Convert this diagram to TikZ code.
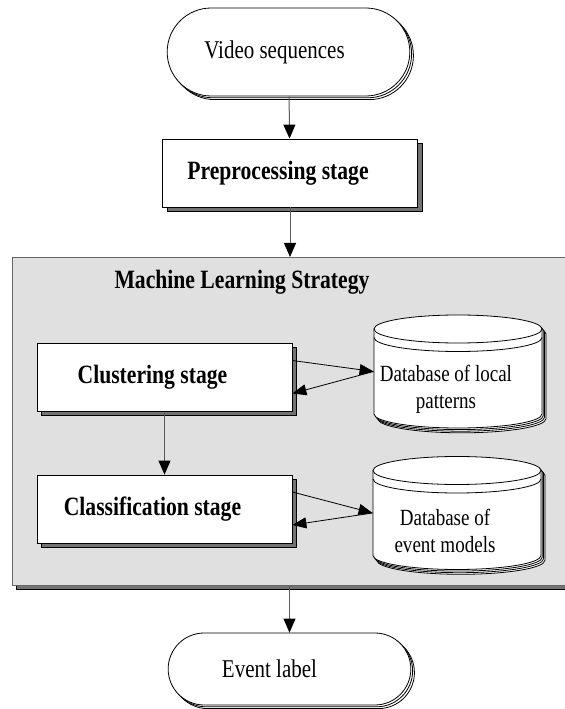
\documentclass[tikz,border=0pt]{standalone}
\usepackage{fontspec}
\setmainfont{Liberation Serif}[FakeStretch=0.82]
\usetikzlibrary{positioning,arrows.meta,shapes.misc,shadows,calc}
\def\px{0.5pt}
\tikzset{
  terminal/.style={rounded rectangle, draw, fill=white, line width=0.4pt,
    minimum width=256*\px, minimum height=88*\px, font=\fontsize{12.8}{15}\selectfont,
    execute at end node={\hspace{14pt}},
    double copy shadow={shadow xshift=0.9pt, shadow yshift=-0.9pt, draw=black, fill=white}},
  stagebox/.style={rectangle, draw, fill=white, line width=0.4pt,
    minimum width=255*\px, minimum height=68*\px, font=\bfseries\fontsize{13.2}{16}\selectfont,
    execute at end node={\hspace{12pt}},
    copy shadow={shadow xshift=2.2pt, shadow yshift=-2.2pt, fill=black!55, draw=black}},
  dbase/.style={rectangle, minimum width=168*\px, minimum height=113*\px, inner sep=0pt},
  dbtext/.style={font=\fontsize{11.6}{13.5}\selectfont, align=center, xshift=-6pt, yshift=-9pt},
  mlbox/.style={rectangle, draw=black!60, fill=black!12, line width=0.5pt,
    copy shadow={shadow xshift=2.2pt, shadow yshift=-2.2pt, fill=black!55, draw=black}},
  flow/.style={draw=black!65, line width=0.5pt, -{Triangle[length=7pt,width=6pt,color=black]}},
  link/.style={draw=black, line width=0.4pt, -{Triangle[length=7pt,width=5.5pt]}}
}
\begin{document}
\begin{tikzpicture}[x=\px, y=\px]
  \useasboundingbox (0,0) rectangle (565,709);
  % outer stages
  \node[terminal] (vid) at (288.5,657) {Video sequences};
  \node[stagebox] (pre) at (290,536) {Preprocessing stage};
  \node[mlbox, anchor=north west, minimum width=600*\px, minimum height=328*\px] (ml) at (12,452) {};
  \node[font=\bfseries\fontsize{13.2}{16}\selectfont] (mltitle) at (242,427) {Machine Learning Strategy};
  % inner stages
  \node[stagebox] (clu) at (164.5,331.5) {Clustering stage};
  \node[stagebox] (cla) at (164.5,200) {Classification stage};
  % databases: stacked cylinders
  \foreach \cx/\cy in {458/337.5, 457/196} {
    \foreach \s in {3,2,1,0}
      \draw[fill=white, line width=0.4pt, shift={(\s*1.3,-\s*1.6)}]
        (\cx-84,\cy+42.5) -- (\cx-84,\cy-42.5)
        arc[start angle=180, end angle=360, x radius=84, y radius=14]
        -- (\cx+84,\cy+42.5)
        arc[start angle=0, end angle=180, x radius=84, y radius=14] -- cycle;
    \draw[line width=0.4pt] (\cx-84,\cy+42.5) arc[start angle=180, end angle=360, x radius=84, y radius=14];
    \draw[line width=0.4pt] (\cx-84,\cy+34) arc[start angle=180, end angle=360, x radius=84, y radius=14];
  }
  \node[dbase, label={[dbtext]center:Database of local\\patterns}] (db1) at (458,337.5) {};
  \node[dbase, label={[dbtext]center:Database of\\event models}] (db2) at (457,196) {};
  \node[terminal, minimum height=72*\px, execute at end node={\hspace{6pt}}] (ev) at (289.5,40) {Event label};
  % connectors
  \draw[flow] (vid) -- (pre);
  \draw[flow] (pre.south) -- (pre.south |- ml.north);
  \draw[flow] (clu) -- (cla);
  \draw[flow] (ev.north |- ml.south) -- (ev.north);
  \draw[link] ($(clu.east)+(0,17)$) -- (db1.west);
  \draw[link] (db1.west) -- ($(clu.east)+(0,-16)$);
  \draw[link] ($(cla.east)+(0,17)$) -- (db2.west);
  \draw[link] (db2.west) -- ($(cla.east)+(0,-16)$);
\end{tikzpicture}
\end{document}
